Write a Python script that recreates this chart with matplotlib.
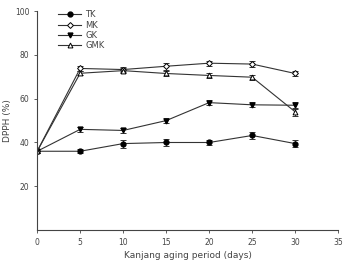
import matplotlib
matplotlib.use("Agg")
import matplotlib.pyplot as plt

days = [0, 5, 10, 15, 20, 25, 30]
tk = [36, 36, 39.5, 40, 40, 43.2, 39.5]
mk = [36, 73.8, 73.3, 74.8, 76.2, 75.8, 71.5]
gk = [36, 46, 45.5, 50, 58.2, 57.2, 57]
gmk = [36, 71.6, 72.8, 71.5, 70.6, 69.8, 54]
tk_err = [1, 1, 1.8, 1.5, 1.2, 1.8, 1.5]
mk_err = [1, 1, 1, 1.5, 1.2, 1.2, 1.3]
gk_err = [1, 1, 1, 1.3, 1, 1.2, 1.5]
gmk_err = [1, 1, 1, 1.2, 1, 1.2, 1.8]

fig = plt.figure(figsize=(3.44, 2.63), dpi=100)
ax = fig.add_axes([0.108, 0.125, 0.875, 0.833])

lc = "#333333"
kw = dict(color=lc, lw=0.8, capsize=2, elinewidth=0.7, capthick=0.7)
c1 = ax.errorbar(days, tk, yerr=tk_err, marker="o", markersize=3.5, mfc="black", mec="black", label="TK", **kw)
c2 = ax.errorbar(days, mk, yerr=mk_err, marker="D", markersize=3, mfc="white", mec="black", mew=0.7, label="MK", **kw)
c3 = ax.errorbar(days, gk, yerr=gk_err, marker="v", markersize=3.5, mfc="black", mec="black", label="GK", **kw)
c4 = ax.errorbar(days, gmk, yerr=gmk_err, marker="^", markersize=3.5, mfc="white", mec="black", mew=0.7, label="GMK", **kw)

ax.set_xlim(0, 35)
ax.set_ylim(0, 100)
ax.set_xticks([0, 5, 10, 15, 20, 25, 30, 35])
ax.set_yticks([20, 40, 60, 80, 100])
ax.spines["top"].set_visible(False)
ax.spines["right"].set_visible(False)
for s in ("left", "bottom"):
    ax.spines[s].set_linewidth(0.8)
    ax.spines[s].set_color("#444444")
ax.tick_params(labelsize=5.5, length=2, width=0.6, colors="#444444")
ax.set_xlabel("Kanjang aging period (days)", fontsize=6.5, color="#444444", labelpad=3)
ax.set_ylabel("DPPH (%)", fontsize=6.5, color="#444444", labelpad=2)
handles = [c[0] for c in (c1, c2, c3, c4)]
ax.legend(handles, ["TK", "MK", "GK", "GMK"], loc="upper left", bbox_to_anchor=(0.05, 1.03),
          frameon=False, fontsize=6, labelspacing=0.15, handlelength=2.8, handletextpad=0.5,
          borderpad=0.2, labelcolor="#444444")

fig.savefig("out.png", dpi=100)
